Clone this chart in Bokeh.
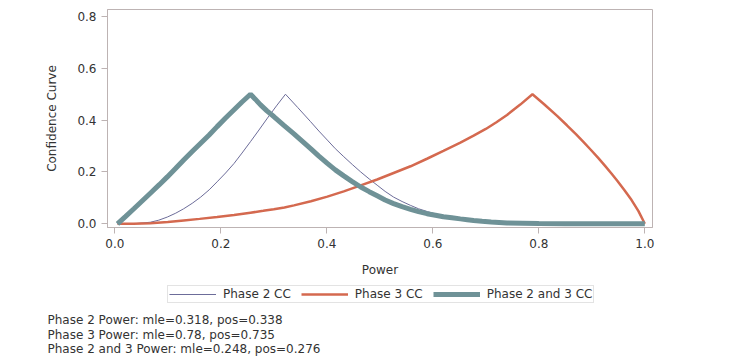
from bokeh.plotting import figure
from bokeh.layouts import column
from bokeh.models import (Range1d, Legend, LegendItem, Label, FixedTicker,
                          PrintfTickFormatter, ColumnDataSource)
from bokeh.embed import file_html
from bokeh.resources import INLINE

# Phase 2 CC (thin)
p2_x = [0.005, 0.04, 0.067, 0.083, 0.099, 0.115, 0.130, 0.146, 0.162, 0.178, 0.193,
        0.209, 0.225, 0.240, 0.256, 0.272, 0.288, 0.305, 0.322,
        0.345, 0.369, 0.385, 0.401, 0.416, 0.432, 0.448, 0.464, 0.480, 0.495, 0.510,
        0.526, 0.542, 0.558, 0.573, 0.590, 0.605, 0.620, 0.635, 0.650, 0.675, 0.700,
        0.750, 0.800, 0.900, 1.0]
p2_y = [0.0, 0.001, 0.006, 0.014, 0.026, 0.041, 0.058, 0.079, 0.103, 0.131, 0.162,
        0.196, 0.233, 0.273, 0.317, 0.362, 0.408, 0.455, 0.500,
        0.449, 0.395, 0.358, 0.323, 0.290, 0.259, 0.229, 0.200, 0.173, 0.149, 0.125,
        0.103, 0.086, 0.071, 0.058, 0.047, 0.038, 0.031, 0.025, 0.020, 0.014, 0.009,
        0.004, 0.002, 0.0, 0.0]

# Phase 3 CC
p3_x = [0.005, 0.035, 0.067, 0.100, 0.130, 0.160, 0.193, 0.225, 0.256, 0.280, 0.300,
        0.320, 0.338, 0.370, 0.401, 0.432, 0.464, 0.495, 0.526, 0.558, 0.589, 0.620,
        0.652, 0.677, 0.700, 0.720, 0.740, 0.765, 0.788, 0.810, 0.835, 0.853, 0.870,
        0.885, 0.898, 0.912, 0.925, 0.937, 0.948, 0.962, 0.975, 0.988, 1.0]
p3_y = [0.0, 0.0005, 0.002, 0.007, 0.013, 0.019, 0.026, 0.034, 0.043, 0.050, 0.056,
        0.063, 0.071, 0.087, 0.105, 0.125, 0.148, 0.171, 0.196, 0.222, 0.251, 0.281,
        0.313, 0.340, 0.366, 0.392, 0.420, 0.460, 0.500, 0.4615, 0.4153, 0.3802,
        0.3457, 0.3142, 0.2858, 0.2542, 0.2236, 0.1942, 0.1662, 0.1287, 0.0916,
        0.0487, 0.0]

# Phase 2 and 3 CC (thick)
p23_x = [0.005, 0.020, 0.036, 0.052, 0.068, 0.084, 0.099, 0.115, 0.130, 0.146, 0.162,
         0.178, 0.193, 0.209, 0.225, 0.240, 0.256,
         0.265, 0.275, 0.287, 0.300, 0.319, 0.338, 0.354, 0.370, 0.385, 0.401, 0.416,
         0.432, 0.448, 0.464, 0.480, 0.495, 0.510, 0.526, 0.542, 0.558, 0.573, 0.589,
         0.605, 0.620, 0.636, 0.652, 0.665, 0.677, 0.693, 0.710, 0.725, 0.740, 0.770,
         0.800, 0.850, 0.900, 1.0]
p23_y = [0.0, 0.028, 0.058, 0.089, 0.120, 0.151, 0.181, 0.214, 0.246, 0.279, 0.311,
         0.343, 0.375, 0.408, 0.440, 0.470, 0.500,
         0.481, 0.459, 0.436, 0.414, 0.380, 0.347, 0.318, 0.289, 0.261, 0.233, 0.208,
         0.185, 0.163, 0.142, 0.124, 0.108, 0.092, 0.078, 0.066, 0.056, 0.047, 0.039,
         0.033, 0.027, 0.023, 0.019, 0.016, 0.013, 0.010, 0.007, 0.005, 0.003, 0.002,
         0.001, 0.0005, 0.0, 0.0]

x_ticks = [0.0, 0.2, 0.4, 0.6, 0.8, 1.0]
y_ticks = [0.0, 0.2, 0.4, 0.6, 0.8]

legend_names = ["Phase 2 CC", "Phase 3 CC", "Phase 2 and 3 CC"]
notes = ["Phase 2 Power: mle=0.318, pos=0.338",
         "Phase 3 Power: mle=0.78, pos=0.735",
         "Phase 2 and 3 Power: mle=0.248, pos=0.276"]

FONT = "DejaVu Sans"
GRAY = "#bdb3b3"
TXT = "#333333"
COLORS = ["#6c6c99", "#d4694f", "#6f9297"]
WIDTHS = [1, 2.5, 5]
series = [(p2_x, p2_y), (p3_x, p3_y), (p23_x, p23_y)]

p = figure(frame_width=545, frame_height=218, output_backend="svg",
           toolbar_location=None,
           x_range=Range1d(-0.0138, 1.0145), y_range=Range1d(-0.0143, 0.827),
           min_border_left=107, min_border_right=88, min_border_top=9,
           min_border_bottom=52)
p.frame_align = False
p.background_fill_color = "white"
p.border_fill_color = "white"
p.outline_line_color = GRAY
p.outline_line_width = 1
p.grid.visible = False

for ax, ticks in ((p.xaxis, x_ticks), (p.yaxis, y_ticks)):
    ax.ticker = FixedTicker(ticks=ticks)
    ax.formatter = PrintfTickFormatter(format="%.1f")
    ax.axis_line_color = GRAY
    ax.major_tick_line_color = GRAY
    ax.major_tick_in = 0
    ax.major_tick_out = 6
    ax.minor_tick_line_color = None
    ax.major_label_text_font = FONT
    ax.major_label_text_font_size = "12px"
    ax.major_label_text_color = TXT
    ax.major_label_standoff = 5
    ax.axis_label_text_font = FONT
    ax.axis_label_text_font_size = "12px"
    ax.axis_label_text_font_style = "normal"
    ax.axis_label_text_color = TXT

p.xaxis.axis_label = "Power"
p.xaxis.axis_label_standoff = 12
p.yaxis.axis_label = "Confidence Curve"
p.yaxis.axis_label_standoff = 15

sources = []
for (xs, ys), c, w in zip(series, COLORS, WIDTHS):
    src = ColumnDataSource(data=dict(x=xs, y=ys))
    sources.append(src)
    p.line("x", "y", source=src, line_color=c, line_width=w)

# Legend and notes panel below the chart
H2 = 78
q = figure(width=740, height=H2, output_backend="svg", toolbar_location=None,
           x_range=Range1d(0, 740), y_range=Range1d(0, H2),
           x_axis_type=None, y_axis_type=None, min_border=0)
q.frame_align = False
q.outline_line_color = None
q.grid.visible = False
q.background_fill_color = "white"
q.border_fill_color = "white"
# range used only by the legend's key renderers, so their data falls out of view
q.extra_y_ranges = {"legend_only": Range1d(50, 60)}

items = []
for name, src, c, w in zip(legend_names, sources, COLORS, WIDTHS):
    r = q.line("x", "y", source=src, y_range_name="legend_only",
               line_color=c, line_width=w)
    items.append(LegendItem(label=name, renderers=[r]))

legend = Legend(items=items, location=(167, 53.7), orientation="horizontal")
legend.label_text_font = FONT
legend.label_text_font_size = "12px"
legend.label_text_color = TXT
legend.glyph_width = 47
legend.glyph_height = 12
legend.label_height = 12
legend.label_standoff = 7
legend.spacing = 10
legend.padding = 1
legend.margin = 0
legend.border_line_color = "#c8c8c8"
legend.background_fill_color = "white"
legend.background_fill_alpha = 1
q.add_layout(legend, "center")

for txt, yy in zip(notes, [38, 23, 8.5]):
    q.add_layout(Label(x=47, y=yy, text=txt, text_font=FONT, text_font_size="12px",
                       text_color=TXT, text_baseline="alphabetic", text_align="left"))

open("out.html", "w").write(file_html(column(p, q, spacing=0), INLINE))
